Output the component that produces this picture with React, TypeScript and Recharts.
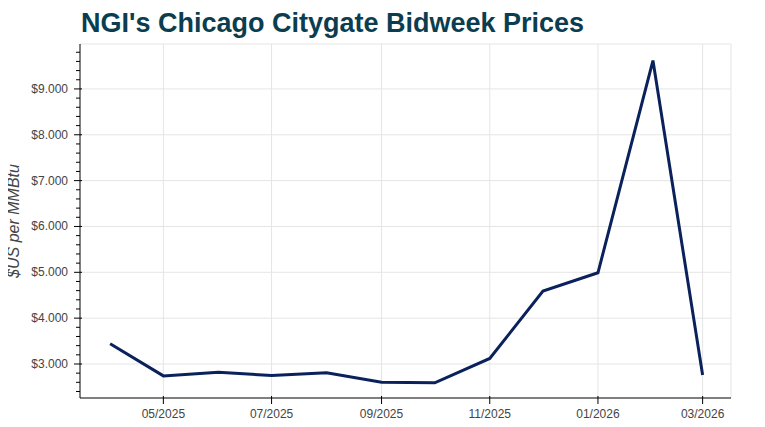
import React from "react";
import { LineChart, Line, XAxis, YAxis, CartesianGrid, ReferenceLine } from "recharts";

// Bidweek months (first of month) and prices in $US/MMBtu
const months = [
  "2025-04-01", "2025-05-01", "2025-06-01", "2025-07-01", "2025-08-01", "2025-09-01",
  "2025-10-01", "2025-11-01", "2025-12-01", "2026-01-01", "2026-02-01", "2026-03-01",
];
const prices = [3.44, 2.74, 2.82, 2.75, 2.81, 2.6, 2.59, 3.12, 4.59, 4.99, 9.62, 2.76];

const xTickDates = ["2025-05-01", "2025-07-01", "2025-09-01", "2025-11-01", "2026-01-01", "2026-03-01"];
const yMajorTicks = [3, 4, 5, 6, 7, 8, 9];
const yMinorTicks = [
  2.4, 2.6, 2.8, 3.2, 3.4, 3.6, 3.8, 4.2, 4.4, 4.6, 4.8, 5.2, 5.4, 5.6, 5.8,
  6.2, 6.4, 6.6, 6.8, 7.2, 7.4, 7.6, 7.8, 8.2, 8.4, 8.6, 8.8, 9.2, 9.4, 9.6, 9.8,
];

const toTs = (d: string) => new Date(d + "T00:00:00Z").getTime();

const data = months.map((m, i) => ({ date: toTs(m), price: prices[i] }));
const xTicks = xTickDates.map(toTs);
const xDomain = [Date.UTC(2025, 2, 15), Date.UTC(2026, 2, 17)];
const yDomain = [2.258, 9.98];
const yTicks = [...yMajorTicks, ...yMinorTicks].sort((a, b) => a - b);

const FONT = "'Liberation Sans', Arial, Helvetica, sans-serif";
const TICK_COLOR = "#444444";

const fmtMonth = (ts: number) => {
  const d = new Date(ts);
  const mm = String(d.getUTCMonth() + 1).padStart(2, "0");
  return `${mm}/${d.getUTCFullYear()}`;
};

const YTick = (props: any) => {
  const { x, y, payload } = props;
  const isMajor = yMajorTicks.includes(payload.value);
  if (!isMajor) {
    return <line x1={x - 4} x2={x} y1={y} y2={y} stroke="#000" strokeWidth={1} />;
  }
  return (
    <g>
      <line x1={x - 6} x2={x + 2} y1={y} y2={y} stroke="#000" strokeWidth={1} />
      <text x={x - 12} y={y} dy={4} textAnchor="end" fontSize={12} fill={TICK_COLOR} fontFamily={FONT}>
        {"$" + payload.value.toFixed(3)}
      </text>
    </g>
  );
};

const XTick = (props: any) => {
  const { x, y, payload } = props;
  return (
    <g>
      <line x1={x} x2={x} y1={y - 2} y2={y + 6} stroke="#000" strokeWidth={1} />
      <text x={x} y={y + 20} textAnchor="middle" fontSize={12} fill={TICK_COLOR} fontFamily={FONT}>
        {fmtMonth(payload.value)}
      </text>
    </g>
  );
};

const AxisTitle = (props: any) => {
  const { viewBox } = props;
  const cx = viewBox.x + 13;
  const cy = viewBox.y + viewBox.height / 2;
  return (
    <text
      x={cx}
      y={cy}
      transform={`rotate(-90, ${cx}, ${cy})`}
      textAnchor="middle"
      dominantBaseline="central"
      fontSize={16}
      fontStyle="italic"
      fill={TICK_COLOR}
      fontFamily={FONT}
    >
      $US per MMBtu
    </text>
  );
};

export default function App() {
  // offset by the body margin so the chart fills the 765x427 page
  return (
    <div style={{ position: "relative", left: -8, top: -8, width: 765, height: 427, background: "#fff" }}>
      <svg width={765} height={44} style={{ position: "absolute", left: 0, top: 0, pointerEvents: "none" }}>
        <text x={81} y={32} fontSize={27} fontWeight="bold" fill="#0b3d50" fontFamily={FONT}>
          NGI's Chicago Citygate Bidweek Prices
        </text>
      </svg>
      <LineChart width={765} height={427} data={data} margin={{ top: 44, right: 34, bottom: 0, left: 0 }}>
        <CartesianGrid
          stroke="#e5e5e5"
          horizontalValues={yMajorTicks}
          verticalValues={xTicks}
        />
        <ReferenceLine y={yDomain[1]} stroke="#e5e5e5" />
        <ReferenceLine x={xDomain[1]} stroke="#e5e5e5" />
        <XAxis
          dataKey="date"
          type="number"
          scale="time"
          domain={xDomain}
          ticks={xTicks}
          interval={0}
          allowDataOverflow
          height={29}
          tickSize={0}
          tickMargin={0}
          tickLine={false}
          axisLine={{ stroke: "#000" }}
          tick={<XTick />}
        />
        <YAxis
          type="number"
          domain={yDomain}
          ticks={yTicks}
          interval={0}
          allowDataOverflow
          width={80}
          tickSize={0}
          tickMargin={0}
          tickLine={false}
          axisLine={{ stroke: "#000" }}
          tick={<YTick />}
          label={<AxisTitle />}
        />
        <Line
          type="linear"
          dataKey="price"
          stroke="#0a215b"
          strokeWidth={3}
          dot={false}
          isAnimationActive={false}
        />
      </LineChart>
    </div>
  );
}
